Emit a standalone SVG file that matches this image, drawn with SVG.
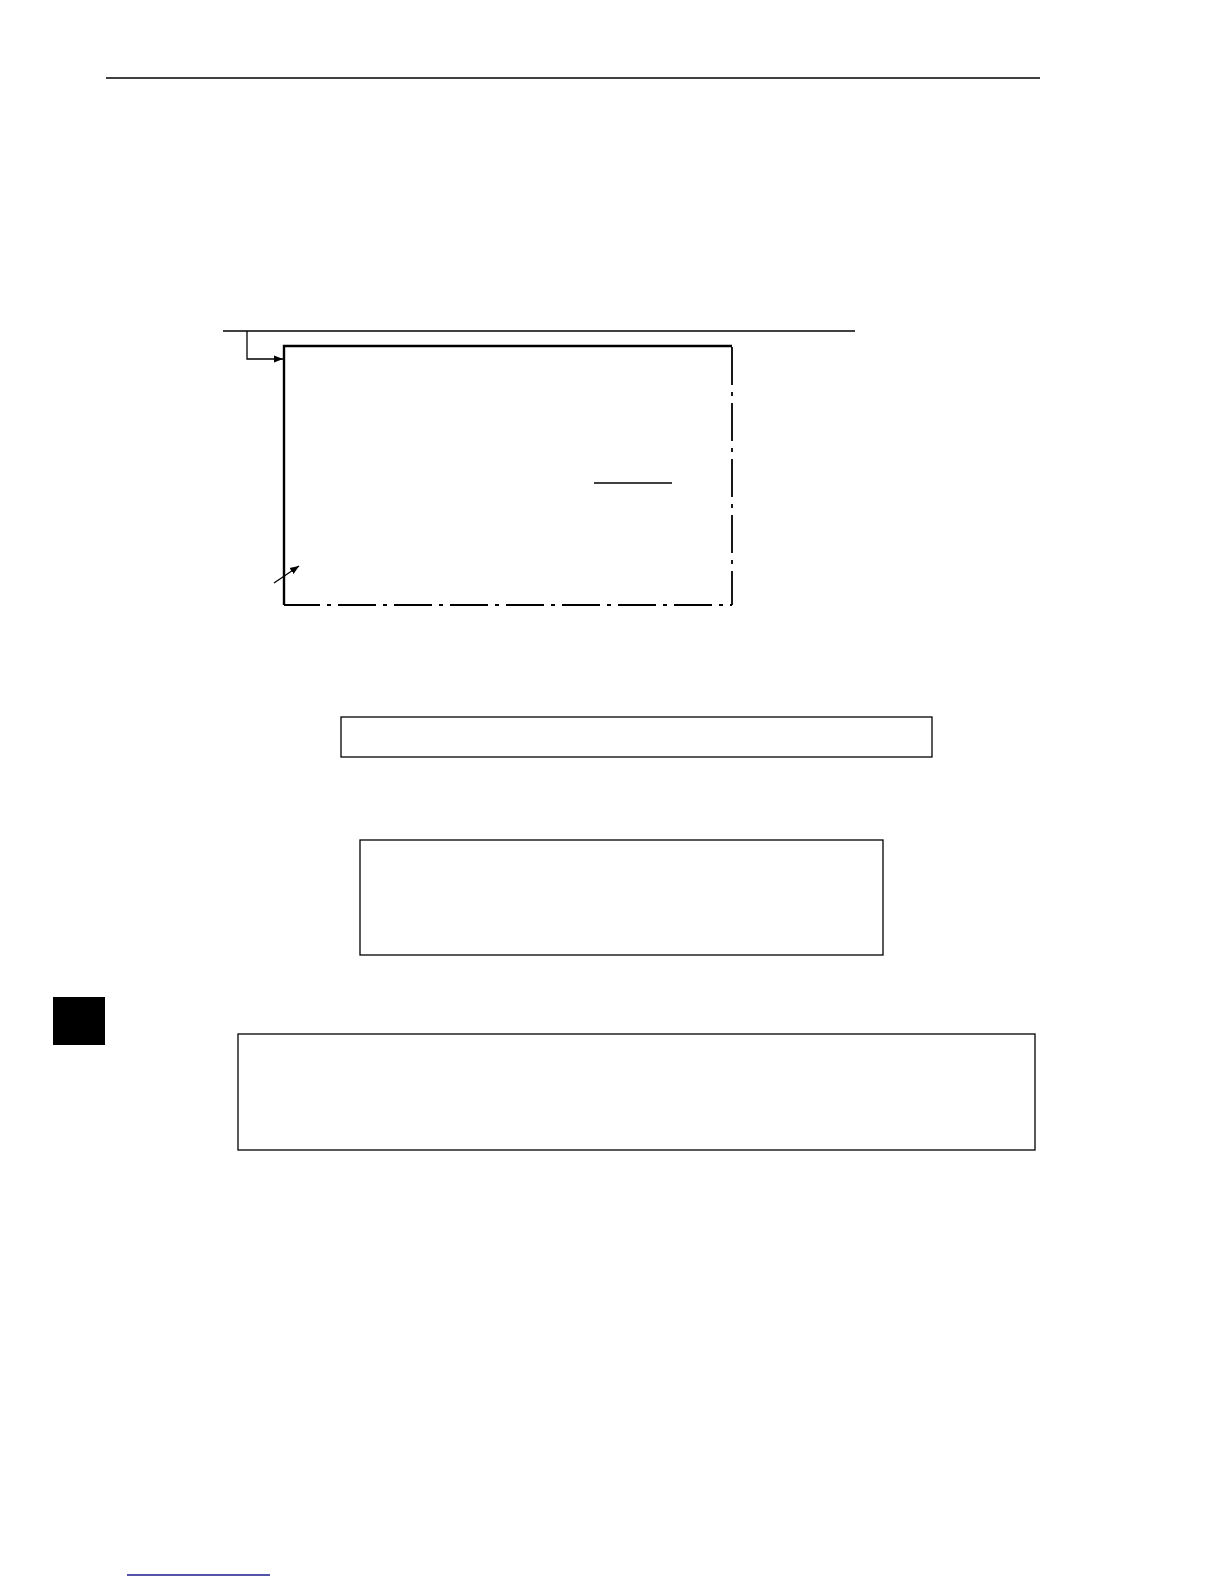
<svg xmlns="http://www.w3.org/2000/svg" width="1224" height="1584" viewBox="0 0 1224 1584">
<style>
.ln{stroke:#000;stroke-width:1.3;fill:none}
.thick{stroke:#000;stroke-width:2.4;fill:none}
.dd{stroke:#000;stroke-width:1.8;fill:none;stroke-dasharray:38 7 4 7}
.box{stroke:#000;stroke-width:1.3;fill:#fff}
</style>
<defs>
<marker id="ah" viewBox="0 0 10 10" refX="10" refY="5" markerWidth="9" markerHeight="9" markerUnits="userSpaceOnUse" orient="auto">
<path d="M0,1 L10,5 L0,9 z" fill="#000"/>
</marker>
</defs>
<rect width="1224" height="1584" fill="#fff"/>
<line class="ln" x1="106" y1="78" x2="1040" y2="78"/>
<line class="ln" x1="223" y1="331" x2="855" y2="331"/>
<g id="frame">
<polyline class="thick" points="284,605 284,346 732,346"/>
<line class="dd" x1="732" y1="347" x2="732" y2="605"/>
<line class="ln" x1="284" y1="605" x2="320" y2="605" style="stroke-width:1.8"/>
<line class="dd" x1="320" y1="605" x2="732" y2="605" style="stroke-dashoffset:38"/>
<line class="ln" x1="594" y1="483" x2="672" y2="483"/>
</g>
<g id="connectors">
<polyline class="ln" points="247,331 247,359 283,359" marker-end="url(#ah)"/>
<line class="ln" x1="274" y1="583" x2="299" y2="566" marker-end="url(#ah)"/>
</g>
<g id="box1"><rect class="box" x="341" y="717" width="591" height="40"/></g>
<g id="box2"><rect class="box" x="360" y="840" width="523" height="115"/></g>
<g id="box3"><rect class="box" x="238" y="1034" width="797" height="116"/></g>
<rect x="53" y="997" width="52" height="48" fill="#000"/>
<line x1="127" y1="1575" x2="270" y2="1575" stroke="#1a1a8c" stroke-width="1.3"/>
</svg>
